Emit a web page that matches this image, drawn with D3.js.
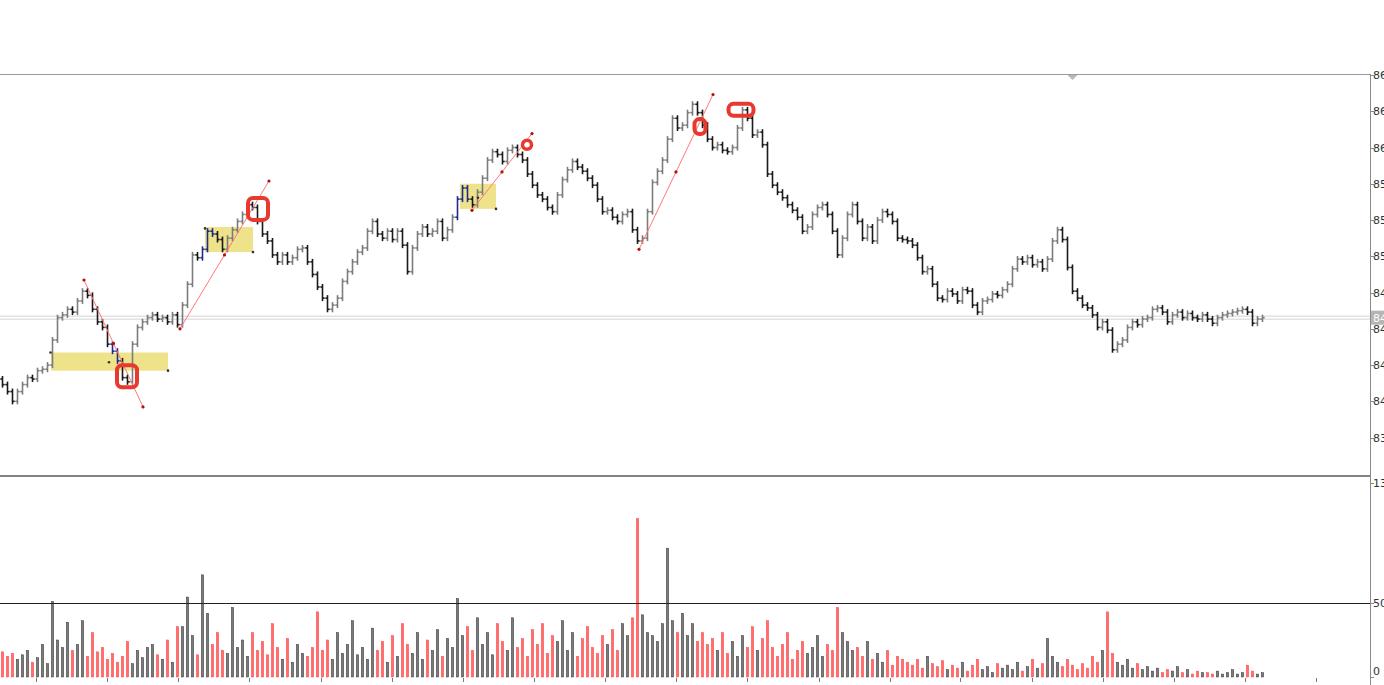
<!DOCTYPE html>
<html>
<head>
<meta charset="utf-8">
<script src="https://cdn.jsdelivr.net/npm/d3@7"></script>
<style>
  html, body { margin: 0; padding: 0; background: #fff; overflow: hidden; }
  svg { display: block; }
</style>
</head>
<body>
<svg id="chart"></svg>
<script>
var width = 1384,
    height = 685;

// closing prices, one bar per slot
var closes = [
  843.1, 842.6, 841.9, 842.6, 843.1, 843.6, 843.5, 844.1, 844.2, 844.5,
  846.3, 847.9, 848.1, 848.5, 848.3, 849.1, 849.8, 849.5, 848.5, 847.6,
  847.2, 846.0, 845.5, 844.8, 843.6, 843.3, 846.0, 847.2, 847.6, 847.9,
  848.1, 847.8, 847.9, 847.6, 848.1, 847.4, 848.8, 850.3, 852.4, 852.2,
  852.8, 854.1, 853.9, 853.5, 852.8, 853.6, 854.2, 854.8, 855.3, 856.0,
  855.8, 854.8, 853.9, 853.4, 852.4, 851.9, 852.4, 851.9, 852.2, 852.8,
  852.9, 851.9, 851.0, 850.1, 849.3, 848.5, 848.8, 849.3, 850.5, 851.2,
  851.9, 852.6, 852.9, 854.1, 854.8, 853.9, 853.6, 854.1, 853.5, 854.1,
  853.1, 851.2, 852.9, 853.9, 854.4, 853.9, 854.1, 854.8, 853.6, 854.2,
  855.1, 856.4, 857.2, 856.4, 856.0, 856.9, 857.9, 859.2, 859.8, 859.6,
  859.1, 859.9, 860.1, 859.6, 859.2, 858.2, 857.4, 856.7, 856.4, 855.8,
  855.5, 856.7, 857.8, 858.5, 859.1, 858.7, 858.4, 857.9, 857.4, 856.4,
  855.5, 855.6, 855.1, 854.8, 855.3, 855.5, 854.2, 853.4, 853.6, 855.5,
  857.6, 858.4, 859.2, 860.7, 862.2, 861.5, 861.7, 862.6, 863.2, 862.6,
  861.7, 860.7, 860.1, 860.3, 859.9, 859.8, 860.1, 861.5, 862.8, 862.2,
  861.0, 861.2, 860.3, 858.2, 857.4, 856.9, 856.5, 856.0, 855.6, 855.1,
  854.1, 854.4, 855.3, 855.8, 856.0, 855.3, 854.1, 852.4, 853.6, 855.3,
  856.0, 854.8, 853.6, 854.4, 853.4, 854.9, 855.5, 855.3, 854.8, 853.6,
  853.5, 853.4, 853.1, 852.2, 851.2, 851.4, 850.3, 849.3, 849.2, 849.8,
  849.6, 849.1, 849.9, 849.8, 848.8, 848.3, 849.1, 849.2, 849.6, 849.5,
  849.9, 850.3, 851.4, 852.1, 851.9, 852.2, 851.7, 851.9, 851.4, 852.1,
  853.4, 854.2, 853.5, 851.5, 849.8, 849.3, 848.8, 848.6, 848.1, 847.2,
  847.6, 847.0, 845.6, 846.0, 846.3, 847.2, 847.6, 847.4, 847.8, 847.9,
  848.5, 848.6, 848.3, 847.6, 848.1, 848.3, 847.9, 848.2, 847.9, 847.8,
  848.1, 847.8, 847.5, 847.9, 848.1, 848.2, 848.3, 848.4, 848.5, 848.3,
  847.5, 847.8, 847.9
];
var firstOpen = 843.5;

var volumes = [
  17, 14, 16, 12, 15, 18, 10, 13, 22, 9,
  51, 25, 20, 37, 18, 22, 38, 14, 30, 17,
  20, 12, 16, 10, 14, 24, 9, 18, 13, 20,
  22, 15, 12, 25, 10, 34, 34, 54, 28, 15,
  69, 43, 22, 30, 18, 16, 47, 20, 25, 14,
  30, 18, 24, 15, 36, 20, 12, 26, 10, 22,
  16, 14, 20, 44, 18, 25, 12, 30, 16, 22,
  38, 15, 20, 12, 33, 18, 24, 10, 28, 14,
  36, 22, 16, 30, 12, 25, 18, 32, 14, 26,
  20, 53, 28, 34, 18, 40, 22, 30, 15, 36,
  24, 18, 40, 20, 26, 14, 32, 22, 36, 16,
  28, 24, 38, 18, 30, 14, 26, 34, 20, 16,
  28, 22, 32, 18, 36, 28, 40, 107, 42, 30,
  28, 24, 36, 87, 38, 30, 43, 28, 36, 24,
  30, 22, 26, 18, 30, 16, 24, 14, 28, 20,
  34, 18, 26, 38, 20, 14, 22, 30, 12, 18,
  24, 16, 20, 28, 14, 22, 18, 47, 30, 24,
  18, 20, 14, 24, 12, 16, 10, 18, 8, 14,
  12, 10, 8, 12, 6, 14, 9, 7, 11, 5,
  8, 6, 10, 4, 8, 12, 5, 7, 3, 9,
  6, 8, 5, 10, 4, 7, 12, 6, 9, 26,
  14, 10, 7, 12, 8, 5, 9, 6, 14, 10,
  18, 44, 16, 10, 8, 12, 6, 9, 5, 7,
  4, 6, 3, 5, 4, 7, 3, 5, 2, 4,
  3, 3, 2, 4, 2, 3, 5, 2, 3, 8,
  4, 2, 3
];

var priceTicks = [865.3, 862.7, 860.1, 857.5, 854.9, 852.3, 849.7, 847.1, 844.5, 841.9, 839.3];
var volumeTicks = [131, 50, 0];
var volumeLevel = 50;
var timeTicks = [6.7, 20.9, 35.1, 49.3, 63.6, 77.8, 92.0, 106.3, 120.5, 134.7, 148.9,
                 163.2, 177.4, 191.6, 205.8, 220.1, 234.3, 248.5, 262.7];

// bars drawn in blue (selected swings inside the zones)
var blueBars = [22, 23, 40, 41, 42, 91, 92, 93];

// zones: [startIndex, endIndex, topPrice, bottomPrice]
var zones = [
  [9.7, 33.1, 845.4, 844.1],
  [40.5, 50.1, 854.4, 852.6],
  [91.5, 98.7, 857.5, 855.7]
];
// zone corner dots: [index, price]
var zoneDots = [[9.6, 845.4], [21.3, 844.7], [33.1, 844.1], [40.5, 854.3], [50.1, 852.6], [95.1, 856.5], [98.7, 855.7]];

// trend lines: [startIndex, startPrice, endIndex, endPrice]
var trendLines = [
  [16.3, 850.6, 28.1, 841.5],
  [35.5, 847.1, 53.3, 857.7],
  [93.9, 855.6, 105.9, 861.1],
  [127.3, 852.8, 142.1, 863.9]
];

// red markers: [index, price, kind]
var markers = [
  [24.9, 843.7, "box"],
  [51.1, 855.7, "box"],
  [104.9, 860.3, "ring"],
  [139.5, 861.6, "oval"],
  [147.7, 862.8, "wide"]
];
var markerSize = { box: [20, 22], oval: [11, 15], wide: [25, 12] };

var alertIndex = 214;

var plotRight = 1370,
    priceTop = 74,
    panelSplit = 476;

var x = d3.scaleLinear().domain([0, 273]).range([2.5, 1367.5]);
var y = d3.scaleLinear().domain([839.3, 865.3]).range([437.6, 75]);
var yv = d3.scaleLinear().domain([0, 131]).range([677, 483]);

var bars = closes.map(function(c, i) {
  var o = i === 0 ? firstOpen : closes[i - 1];
  return { i: i, open: o, close: c, vol: volumes[i], up: c >= o };
});

var svg = d3.select("#chart").attr("width", width).attr("height", height)
    .style("font-family", "DejaVu Sans, Verdana, sans-serif");

svg.append("defs").append("clipPath").attr("id", "plot")
    .append("rect").attr("x", 0).attr("y", priceTop).attr("width", plotRight).attr("height", panelSplit - priceTop);

// current price line
var last = closes[closes.length - 1];
[-1.5, 1.5].forEach(function(off) {
  svg.append("line")
      .attr("x1", 0).attr("x2", plotRight)
      .attr("y1", y(last) + off).attr("y2", y(last) + off)
      .attr("stroke", "#d4d4d4").attr("stroke-width", 1);
});

var plot = svg.append("g").attr("clip-path", "url(#plot)");

// zones
plot.append("g").selectAll("rect")
    .data(zones)
    .enter()
    .append("rect")
    .attr("x", function(d) { return x(d[0]); })
    .attr("y", function(d) { return y(d[2]); })
    .attr("width", function(d) { return x(d[1]) - x(d[0]); })
    .attr("height", function(d) { return y(d[3]) - y(d[2]); })
    .attr("fill", "#eee38a");

// price bars (OHLC style)
var barG = plot.append("g").attr("stroke-width", 1.6);
bars.forEach(function(d) {
  var col = blueBars.indexOf(d.i) !== -1 ? "#1c2c8c" : (d.up ? "#7c7c7c" : "#1a1a1a");
  var cx = x(d.i);
  var hi = Math.min(y(d.open), y(d.close)) - 3,
      lo = Math.max(y(d.open), y(d.close)) + 3;
  barG.append("line").attr("x1", cx).attr("x2", cx).attr("y1", hi).attr("y2", lo).attr("stroke", col);
  barG.append("line").attr("x1", cx - 2.2).attr("x2", cx).attr("y1", y(d.open)).attr("y2", y(d.open)).attr("stroke", col);
  barG.append("line").attr("x1", cx).attr("x2", cx + 2.2).attr("y1", y(d.close)).attr("y2", y(d.close)).attr("stroke", col);
});

// trend lines
var tl = plot.append("g");
trendLines.forEach(function(t) {
  tl.append("line")
      .attr("x1", x(t[0])).attr("y1", y(t[1]))
      .attr("x2", x(t[2])).attr("y2", y(t[3]))
      .attr("stroke", "#ff7878").attr("stroke-width", 1);
  [[t[0], t[1]], [(t[0] + t[2]) / 2, (t[1] + t[3]) / 2], [t[2], t[3]]].forEach(function(p) {
    tl.append("circle").attr("cx", x(p[0])).attr("cy", y(p[1])).attr("r", 1.6).attr("fill", "#b01010");
  });
});

plot.append("g").selectAll("circle")
    .data(zoneDots)
    .enter()
    .append("circle")
    .attr("cx", function(d) { return x(d[0]); })
    .attr("cy", function(d) { return y(d[1]); })
    .attr("r", 1.3)
    .attr("fill", "#333");

// red markers
var mk = plot.append("g").attr("fill", "none").attr("stroke", "#e8392f").attr("stroke-width", 4);
markers.forEach(function(m) {
  var cx = x(m[0]), cy = y(m[1]);
  if (m[2] === "ring") {
    mk.append("circle").attr("cx", cx).attr("cy", cy).attr("r", 4.5).attr("stroke-width", 3.5);
  } else {
    var s = markerSize[m[2]];
    mk.append("rect")
        .attr("x", cx - s[0] / 2).attr("y", cy - s[1] / 2)
        .attr("width", s[0]).attr("height", s[1])
        .attr("rx", 5);
  }
});

// alert marker at top edge
svg.append("path")
    .attr("d", "M" + (x(alertIndex) - 6) + "," + priceTop + "L" + x(alertIndex) + "," + (priceTop + 6) + "L" + (x(alertIndex) + 6) + "," + priceTop + "Z")
    .attr("fill", "#b8b8b8");

// volume bars
svg.append("g").selectAll("rect")
    .data(bars)
    .enter()
    .append("rect")
    .attr("x", function(d) { return x(d.i) - 1.2; })
    .attr("y", function(d) { return yv(d.vol); })
    .attr("width", 2.4)
    .attr("height", function(d) { return yv(0) - yv(d.vol); })
    .attr("fill", function(d) { return d.up ? "#7a7a7a" : "#ff6e6e"; })
    .attr("stroke", function(d) { return d.up ? "#3c3c3c" : "#ff4a4a"; })
    .attr("stroke-width", 0.5);

// frame lines
svg.append("line").attr("x1", 0).attr("x2", plotRight).attr("y1", priceTop + 0.5).attr("y2", priceTop + 0.5)
    .attr("stroke", "#9a9a9a");
svg.append("line").attr("x1", plotRight + 0.5).attr("x2", plotRight + 0.5).attr("y1", priceTop).attr("y2", height)
    .attr("stroke", "#8a8a8a");
svg.append("line").attr("x1", 0).attr("x2", plotRight).attr("y1", panelSplit).attr("y2", panelSplit)
    .attr("stroke", "#5a5a5a").attr("stroke-width", 1.6);
svg.append("line").attr("x1", 0).attr("x2", plotRight).attr("y1", Math.round(yv(volumeLevel)) + 0.5).attr("y2", Math.round(yv(volumeLevel)) + 0.5)
    .attr("stroke", "#222").attr("stroke-width", 1);

// price axis (labels run past the window edge, as in the terminal)
var pAxis = svg.append("g").attr("font-size", 11).attr("fill", "#333");
priceTicks.forEach(function(p) {
  var ty = Math.round(y(p)) + 0.5;
  pAxis.append("line").attr("x1", plotRight).attr("x2", plotRight + 4).attr("y1", ty).attr("y2", ty).attr("stroke", "#8a8a8a");
  pAxis.append("text").attr("x", plotRight + 3).attr("y", ty).attr("dy", "0.35em").text(p.toFixed(1).replace(".", ""));
});

// current price label
svg.append("rect").attr("x", plotRight + 1).attr("y", y(last) - 7).attr("width", 14).attr("height", 14).attr("fill", "#b5b5b5");
svg.append("text").attr("x", plotRight + 3).attr("y", y(last)).attr("dy", "0.35em")
    .attr("font-size", 11).attr("fill", "#fff").text(last.toFixed(1).replace(".", ""));

// volume axis
var vAxis = svg.append("g").attr("font-size", 11).attr("fill", "#333");
volumeTicks.forEach(function(v) {
  var ty = Math.round(yv(v)) + 0.5;
  vAxis.append("line").attr("x1", plotRight).attr("x2", plotRight + 4).attr("y1", ty).attr("y2", ty).attr("stroke", "#8a8a8a");
  vAxis.append("text").attr("x", plotRight + 3).attr("y", v === 0 ? ty - 6 : ty).attr("dy", "0.35em").text(v);
});

// time ticks at the bottom
svg.append("g").selectAll("line")
    .data(timeTicks)
    .enter()
    .append("line")
    .attr("x1", function(d) { return Math.round(x(d)) + 0.5; })
    .attr("x2", function(d) { return Math.round(x(d)) + 0.5; })
    .attr("y1", 678).attr("y2", 682)
    .attr("stroke", "#777");
</script>
</body>
</html>
